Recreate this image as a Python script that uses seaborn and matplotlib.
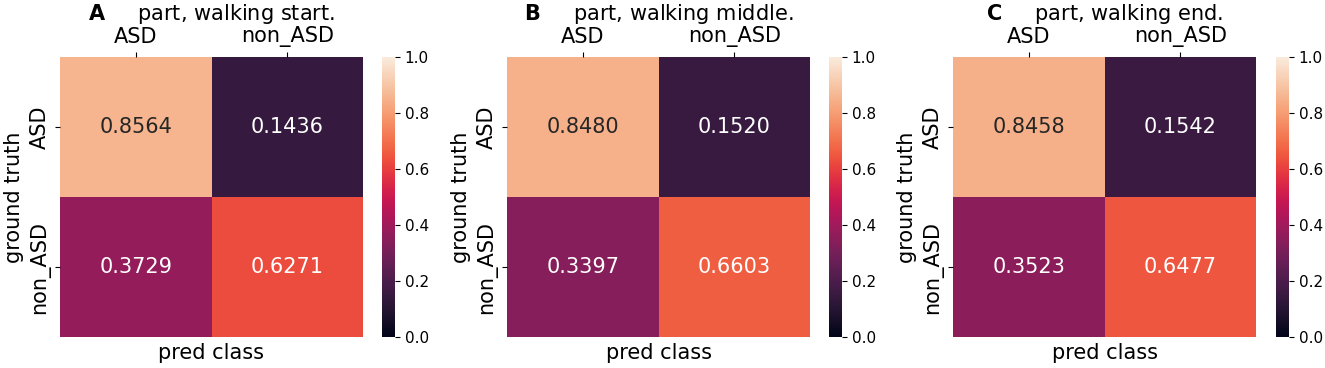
import numpy as np
import matplotlib
matplotlib.use("Agg")
import matplotlib.pyplot as plt
import seaborn as sns

# 데이터
class_names = ["ASD", "non_ASD"]
panel_letters = ["A", "B", "C"]
panel_titles = ["part, walking start.", "part, walking middle.", "part, walking end."]
cm_start = [[0.8564, 0.1436], [0.3729, 0.6271]]
cm_middle = [[0.8480, 0.1520], [0.3397, 0.6603]]
cm_end = [[0.8458, 0.1542], [0.3523, 0.6477]]
matrices = [cm_start, cm_middle, cm_end]

plt.rcParams['font.family'] = ['DejaVu Sans']

fig = plt.figure(figsize=(13.25, 3.68), dpi=100)

# 각 패널 위치 (heatmap left, colorbar left) - 픽셀 기준
lefts = [60, 507, 953]
cb_lefts = [382, 829, 1276]
W, H = 1325, 368
bottom = (H - 337) / H
height = 280 / H

for i, cm in enumerate(matrices):
    ax = fig.add_axes([lefts[i] / W, bottom, 303 / W, height])
    cax = fig.add_axes([cb_lefts[i] / W, bottom, 13 / W, height])
    sns.heatmap(np.array(cm), annot=True, fmt=".4f", cmap="rocket",
                vmin=0, vmax=1, ax=ax, cbar_ax=cax,
                xticklabels=class_names, yticklabels=class_names,
                annot_kws={"fontsize": 15})
    ax.xaxis.tick_top()
    ax.tick_params(axis='both', labelsize=15)
    ax.set_xlabel("pred class", fontsize=15)
    ax.set_ylabel("ground truth", fontsize=15)
    # 패널 문자(굵게) + 제목
    ax.set_title(r"$\bf{" + panel_letters[i] + "}$" + "     " + panel_titles[i],
                 fontsize=15, pad=3)
    cax.tick_params(labelsize=11)

plt.savefig("out.png", dpi=100)
